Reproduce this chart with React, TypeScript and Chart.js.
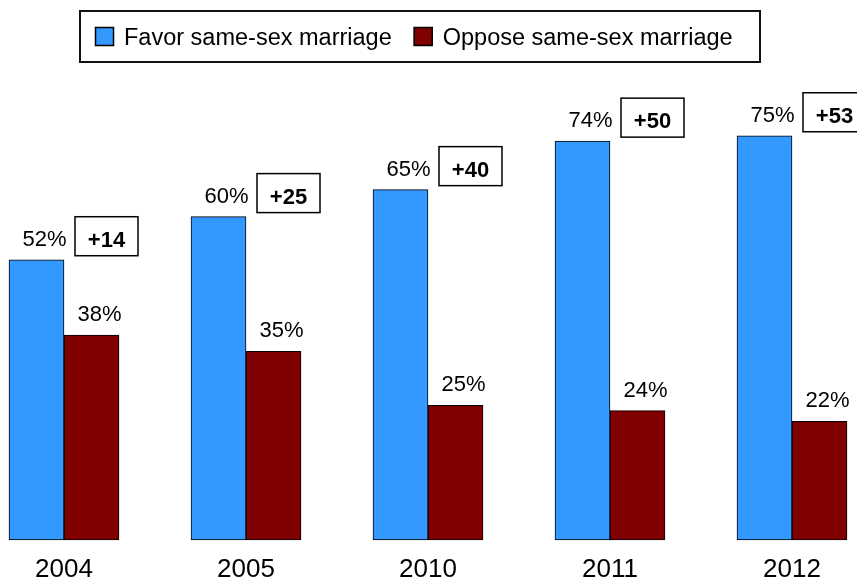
import { useEffect, useRef } from 'react';
import { Chart, registerables } from 'chart.js';

Chart.register(...registerables);

const years = ['2004', '2005', '2010', '2011', '2012'];
const favor = [52, 60, 65, 74, 75];
const oppose = [38, 35, 25, 24, 22];
const seriesNames = ['Favor same-sex marriage', 'Oppose same-sex marriage'];
const seriesColors = ['#3399FF', '#800000'];

const FONT = '"Liberation Sans", Arial, Helvetica, sans-serif';

export default function App() {
  const ref = useRef<HTMLCanvasElement>(null);

  useEffect(() => {
    const canvas = ref.current!;

    const labelPlugin = {
      id: 'valueLabels',
      afterDatasetsDraw(chart: any) {
        const ctx = chart.ctx;
        ctx.save();
        chart.data.datasets.forEach((ds: any, di: number) => {
          const meta = chart.getDatasetMeta(di);
          meta.data.forEach((el: any, i: number) => {
            ctx.font = `22px ${FONT}`;
            ctx.fillStyle = '#000';
            ctx.textAlign = 'center';
            ctx.textBaseline = 'alphabetic';
            ctx.fillText(`${ds.data[i]}%`, el.x + 8, el.y - 14);
          });
        });
        const m0 = chart.getDatasetMeta(0);
        m0.data.forEach((el: any, i: number) => {
          const diff = favor[i] - oppose[i];
          const left = el.x + el.width / 2 + 11;
          const top = el.y - 43;
          ctx.fillStyle = '#fff';
          ctx.fillRect(left, top, 63, 39);
          ctx.lineWidth = 1.5;
          ctx.strokeStyle = '#000';
          ctx.strokeRect(left, top, 63, 39);
          ctx.font = `bold 22px ${FONT}`;
          ctx.fillStyle = '#000';
          ctx.textAlign = 'center';
          ctx.textBaseline = 'alphabetic';
          ctx.fillText(`+${diff}`, left + 31.5, top + 30);
        });
        ctx.restore();
      },
    };

    const legendPlugin = {
      id: 'boxLegend',
      afterDraw(chart: any) {
        const ctx = chart.ctx;
        ctx.save();
        const bx = 80, by = 11, bw = 680, bh = 51;
        ctx.fillStyle = '#fff';
        ctx.fillRect(bx, by, bw, bh);
        ctx.lineWidth = 2;
        ctx.strokeStyle = '#111';
        ctx.strokeRect(bx, by, bw, bh);
        ctx.font = `23.5px ${FONT}`;
        ctx.textAlign = 'left';
        ctx.textBaseline = 'alphabetic';
        let x = 95;
        chart.data.datasets.forEach((ds: any) => {
          ctx.fillStyle = ds.backgroundColor;
          ctx.fillRect(x, 27, 19, 19);
          ctx.lineWidth = 1.5;
          ctx.strokeStyle = '#000';
          ctx.strokeRect(x + 0.5, 27.5, 18, 18);
          x += 29;
          ctx.fillStyle = '#000';
          ctx.fillText(ds.label, x, 45);
          x += ctx.measureText(ds.label).width + 22;
        });
        ctx.restore();
      },
    };

    const chart = new Chart(canvas, {
      type: 'bar',
      data: {
        labels: years,
        datasets: [
          {
            label: seriesNames[0],
            data: favor,
            backgroundColor: seriesColors[0],
            borderColor: '#000',
            borderWidth: 1,
            borderSkipped: false,
            barThickness: 55,
            clip: false,
          },
          {
            label: seriesNames[1],
            data: oppose,
            backgroundColor: seriesColors[1],
            borderColor: '#000',
            borderWidth: 1,
            borderSkipped: false,
            barThickness: 55,
            clip: false,
          },
        ],
      },
      options: {
        responsive: false,
        animation: false,
        devicePixelRatio: 1,
        layout: { padding: { left: 64, right: 65, top: 1, bottom: 0 } },
        plugins: {
          legend: { display: false },
          tooltip: { enabled: false },
        },
        scales: {
          x: {
            type: 'category',
            offset: false,
            grid: { display: false, drawTicks: false },
            border: { display: false },
            ticks: {
              color: '#000',
              font: { size: 26, family: FONT },
              padding: 14,
              maxRotation: 0,
              autoSkip: false,
            },
            afterFit(scale: any) {
              scale.height = 39;
            },
          },
          y: {
            display: false,
            min: 0,
            max: 100,
          },
        },
      },
      plugins: [labelPlugin, legendPlugin],
    });

    return () => chart.destroy();
  }, []);

  return (
    <div style={{ position: 'absolute', left: 0, top: 0, width: 857, height: 579, overflow: 'hidden', background: '#fff' }}>
      <canvas ref={ref} width={857} height={579} style={{ display: 'block' }} />
    </div>
  );
}
